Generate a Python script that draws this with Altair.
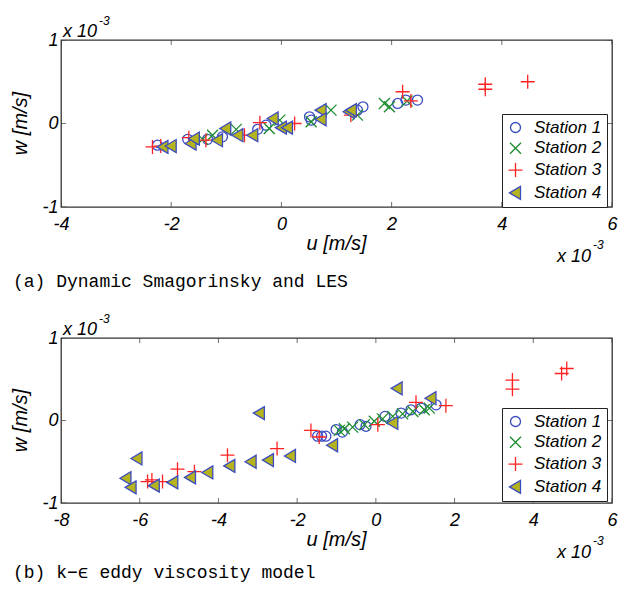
import altair as alt
import pandas as pd

STATIONS = ["Station 1", "Station 2", "Station 3", "Station 4"]

# ---------------- panel (a): Dynamic Smagorinsky and LES ----------------
a1_u = [-2.25, -1.70, -1.34, -1.07, -0.43, -0.28, 0.51, 0.54, 1.38, 1.48, 2.11, 2.26, 2.47]
a1_w = [-0.26, -0.19, -0.19, -0.16, -0.07, -0.02, 0.08, 0.04, 0.16, 0.20, 0.24, 0.28, 0.28]
a2_u = [-1.43, -1.25, -0.82, -0.22, -0.03, 0.54, 0.90, 1.38, 1.87, 1.96, 2.28]
a2_w = [-0.19, -0.14, -0.07, -0.06, 0.04, 0.02, 0.16, 0.10, 0.24, 0.20, 0.27]
a3_u = [-2.34, -2.19, -1.68, -1.37, -0.67, -0.39, 0.24, 1.26, 2.20, 2.35, 3.70, 3.70, 4.47]
a3_w = [-0.28, -0.27, -0.17, -0.20, -0.14, 0.01, 0.00, 0.10, 0.38, 0.27, 0.47, 0.41, 0.50]
a4_u = [-2.15, -2.00, -1.64, -1.58, -1.16, -1.01, -0.79, -0.52, -0.15, 0.00, 0.11, 0.72, 0.72, 1.23, 1.27]
a4_w = [-0.28, -0.27, -0.24, -0.18, -0.20, -0.06, -0.14, -0.14, 0.06, -0.05, -0.05, 0.16, 0.05, 0.14, 0.16]

# ---------------- panel (b): k-epsilon eddy viscosity model ----------------
b1_u = [-1.48, -1.38, -1.27, -1.01, -0.85, -0.40, -0.25, 0.23, 0.64, 0.89, 1.15, 1.53]
b1_w = [-0.19, -0.19, -0.19, -0.11, -0.14, -0.05, -0.07, 0.05, 0.09, 0.13, 0.15, 0.19]
b2_u = [-0.93, -0.80, -0.59, -0.29, -0.04, 0.17, 0.43, 0.68, 0.94, 1.23, 1.36]
b2_w = [-0.12, -0.10, -0.08, -0.05, -0.01, 0.02, 0.05, 0.08, 0.11, 0.13, 0.15]
b3_u = [-5.80, -5.69, -5.42, -5.04, -4.61, -3.77, -2.51, -1.65, -1.44, 0.05, 1.02, 1.78, 3.47, 3.47, 4.72, 4.85]
b3_w = [-0.74, -0.72, -0.74, -0.59, -0.62, -0.42, -0.34, -0.12, -0.20, -0.05, 0.22, 0.18, 0.49, 0.38, 0.57, 0.63]
b4_u = [-6.35, -6.22, -6.07, -5.63, -5.16, -4.71, -4.27, -3.71, -3.17, -2.96, -2.73, -2.17, -1.10, 0.43, 0.54, 1.40]
b4_w = [-0.70, -0.81, -0.46, -0.79, -0.75, -0.69, -0.63, -0.55, -0.50, 0.09, -0.48, -0.43, -0.30, -0.03, 0.39, 0.27]

A_XDOM = [-4, 6]
A_XTICKS = [-4, -2, 0, 2, 4, 6]
B_XDOM = [-8, 6]
B_XTICKS = [-8, -6, -4, -2, 0, 2, 4, 6]
YDOM = [-1, 1]
YTICKS = [-1, 0, 1]

CAP_A = "(a) Dynamic Smagorinsky and LES"
CAP_B = "(b) k\u2212\u03f5 eddy viscosity model"

SHAPES = [
    "circle",
    "M-1.1,-1.1L1.1,1.1M-1.1,1.1L1.1,-1.1",
    "M-1.4,0L1.4,0M0,-1.4L0,1.4",
    "M-1.2,0L1,-1.3L1,1.3Z",
]
STROKES = ["#3b4cc0", "#1a8c2e", "#ff2222", "#3b4cc0"]
FILLS = ["transparent", "transparent", "transparent", "#b6b41e"]

W = 551
FONT = "Liberation Sans"


def frame(groups):
    rows = []
    for name, us, ws in groups:
        for u, w in zip(us, ws):
            rows.append({"station": name, "u": u, "w": w})
    return pd.DataFrame(rows)


def txt(s, x, y, size, style="italic", font=FONT, align="left", baseline="alphabetic", angle=0):
    return alt.Chart(pd.DataFrame({"t": [s]})).mark_text(
        align=align, baseline=baseline, fontSize=size, fontStyle=style,
        font=font, angle=angle, color="black"
    ).encode(x=alt.value(x), y=alt.value(y), text="t:N")


def panel(df, xdom, xticks, h, caption, cap_dy, legend_y):
    leg = alt.Legend(
        title=None, orient="none", legendX=441, legendY=legend_y,
        strokeColor="#222", fillColor="white", padding=5, rowPadding=2.8,
        labelFontSize=17, labelFont=FONT, labelFontStyle="italic", labelColor="black",
        symbolSize=100, symbolStrokeWidth=1.3, labelOffset=10, cornerRadius=0,
    )
    xs = alt.Scale(domain=xdom, nice=False, zero=False)
    ys = alt.Scale(domain=YDOM, nice=False, zero=False)
    xax = alt.Axis(values=xticks, title=None, labelPadding=8, labelOverlap=False,
                   labelExpr="toString(datum.value)")
    yax = alt.Axis(values=YTICKS, title=None, labelPadding=3, labelOverlap=False,
                   labelExpr="toString(datum.value)")
    pts = alt.Chart(df).mark_point(opacity=1, strokeWidth=1.3, size=100, filled=False).encode(
        x=alt.X("u:Q", scale=xs, axis=xax),
        y=alt.Y("w:Q", scale=ys, axis=yax),
        shape=alt.Shape("station:N", scale=alt.Scale(domain=STATIONS, range=SHAPES), legend=leg),
        stroke=alt.Stroke("station:N", scale=alt.Scale(domain=STATIONS, range=STROKES), legend=leg),
        fill=alt.Fill("station:N", scale=alt.Scale(domain=STATIONS, range=FILLS), legend=leg),
    )
    xt = pd.DataFrame([{"u": v, "w": yy} for v in xticks for yy in YDOM])
    yt = pd.DataFrame([{"u": xx, "w": v} for v in YTICKS for xx in xdom])
    xtick = alt.Chart(xt).mark_tick(orient="vertical", size=10, thickness=1, clip=True, color="#333").encode(
        x=alt.X("u:Q", scale=xs, axis=xax), y=alt.Y("w:Q", scale=ys, axis=yax))
    ytick = alt.Chart(yt).mark_tick(orient="horizontal", size=10, thickness=1, clip=True, color="#333").encode(
        x=alt.X("u:Q", scale=xs, axis=xax), y=alt.Y("w:Q", scale=ys, axis=yax))
    texts = [
        txt("x 10", 2, -3, 18),
        txt("-3", 38, -15, 12),
        txt("x 10", 496, h + 55, 18),
        txt("-3", 532, h + 42, 12),
        txt("u [m/s]", W / 2, h + 43, 20, align="center"),
        txt("w [m/s]", -40, h / 2, 20, align="center", baseline="middle", angle=270),
        txt(caption, -48, h + cap_dy, 18, style="normal", font="Liberation Mono"),
    ]
    return alt.layer(pts, xtick, ytick, *texts).properties(width=W, height=h)


pa = panel(frame([(STATIONS[0], a1_u, a1_w), (STATIONS[1], a2_u, a2_w),
                  (STATIONS[2], a3_u, a3_w), (STATIONS[3], a4_u, a4_w)]),
           A_XDOM, A_XTICKS, 167, CAP_A, 80, 74)
pb = panel(frame([(STATIONS[0], b1_u, b1_w), (STATIONS[1], b2_u, b2_w),
                  (STATIONS[2], b3_u, b3_w), (STATIONS[3], b4_u, b4_w)]),
           B_XDOM, B_XTICKS, 165, CAP_B, 75, 70)

chart = alt.vconcat(pa, pb, spacing=20).resolve_scale(
    x="independent", y="independent", shape="independent", stroke="independent", fill="independent"
).resolve_legend(
    shape="independent", stroke="independent", fill="independent"
).properties(
    padding={"left": 10, "top": 14, "right": 5, "bottom": 5}
).configure_view(
    stroke="#333", strokeWidth=1.3
).configure_axis(
    labelFont=FONT, labelFontStyle="italic", labelFontSize=18, labelColor="black",
    domain=False, ticks=False, grid=False, labelFlush=False,
)

chart.save("out.html", embed_options={"renderer": "svg", "actions": False})
